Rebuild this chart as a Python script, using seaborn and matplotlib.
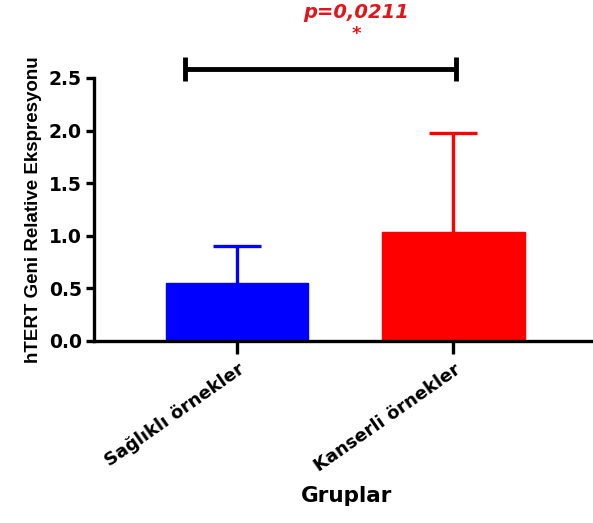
import matplotlib
matplotlib.use("Agg")
import matplotlib.pyplot as plt
import matplotlib.transforms as mtransforms
import seaborn as sns
import pandas as pd
import numpy as np

categories = ["Sağlıklı örnekler", "Kanserli örnekler"]
means = [0.55, 1.04]
sd_upper = [0.35, 0.94]
colors = ["#0000FF", "#FF0000"]
y_ticks = [0.0, 0.5, 1.0, 1.5, 2.0, 2.5]
p_text = "p=0,0211"
star_text = "*"

sns.set_theme(style="ticks")
plt.rcParams["font.family"] = ["DejaVu Sans"]
plt.rcParams["font.weight"] = "bold"
plt.rcParams["text.color"] = "black"
plt.rcParams["axes.labelcolor"] = "black"

df = pd.DataFrame({"Grup": categories, "Deger": means})

fig = plt.figure(figsize=(5.93, 5.23), dpi=100)
ax = fig.add_axes([0.159, 0.348, 0.85, 0.503])

sns.barplot(data=df, x="Grup", y="Deger", hue="Grup", palette=colors,
            order=categories, hue_order=categories, legend=False,
            errorbar=None, width=0.66, saturation=1, ax=ax, zorder=2)
for patch, c in zip(ax.patches, colors):
    patch.set_edgecolor(c)

xpos = np.arange(len(categories))
for i in range(len(categories)):
    _, caps, _ = ax.errorbar(xpos[i], means[i], yerr=[[0], [sd_upper[i]]],
                             fmt="none", ecolor=colors[i], elinewidth=2.4,
                             capsize=17, capthick=2.4, zorder=1)
    for cap in caps:
        if np.allclose(cap.get_ydata(), means[i]):
            cap.set_visible(False)

ax.set_xlim(-0.66, 1.67)
ax.set_ylim(0, 2.5)
ax.set_yticks(y_ticks)
ax.set_yticklabels([f"{v:.1f}" for v in y_ticks], fontsize=13.5, fontweight="bold")
ax.set_xticks(xpos)
ax.set_xticklabels(categories, rotation=35, ha="right", va="top",
                   rotation_mode="anchor", fontsize=13, fontweight="bold")
offset = mtransforms.ScaledTranslation(10 / 100, 0, fig.dpi_scale_trans)
for lbl in ax.get_xticklabels():
    lbl.set_transform(lbl.get_transform() + offset)
ax.tick_params(axis="x", length=9, width=2.4, pad=5, colors="black")
ax.tick_params(axis="y", length=6, width=2.4, pad=3, colors="black")
for s in ["top", "right"]:
    ax.spines[s].set_visible(False)
for s in ["left", "bottom"]:
    ax.spines[s].set_linewidth(2.4)
    ax.spines[s].set_color("black")

ax.set_ylabel("hTERT Geni Relative Ekspresyonu", fontsize=13.5, fontweight="bold",
              family=["Liberation Sans", "DejaVu Sans"], labelpad=5, color="black")
ax.set_xlabel("Gruplar", fontsize=15.5, fontweight="bold", labelpad=8, color="black")

# significance bracket
x0 = -0.24
x1 = 1.01
yb = 2.585
kw = dict(color="black", lw=3.5, clip_on=False, solid_capstyle="butt")
ax.plot([x0, x1], [yb, yb], **kw)
ax.plot([x0, x0], [yb - 0.11, yb + 0.11], **kw)
ax.plot([x1, x1], [yb - 0.11, yb + 0.11], **kw)
ax.text(0.5 + 0.05, 3.12, p_text, color="#E0161B", fontsize=14, fontweight="bold",
        fontstyle="italic", ha="center", va="center", clip_on=False)
ax.text(0.5 + 0.05, 2.92, star_text, color="#E0161B", fontsize=13, fontweight="bold",
        ha="center", va="center", clip_on=False)

fig.savefig("out.png", dpi=100)
